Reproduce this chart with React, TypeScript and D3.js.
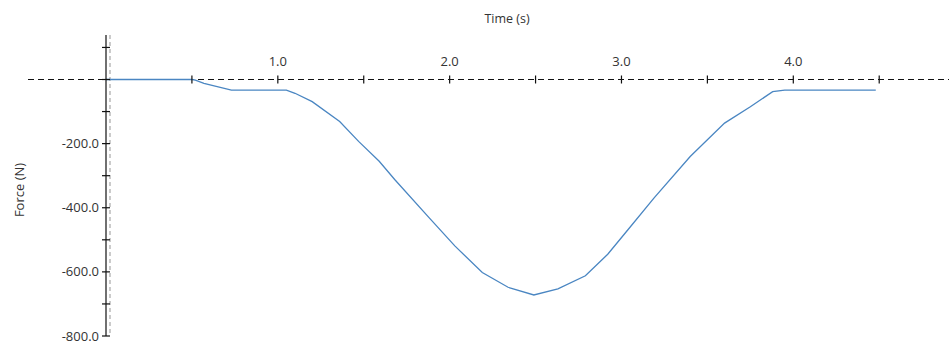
import React from "react";
import * as d3 from "d3";

const timeValues: number[] = [0, 0.5, 0.52, 0.57, 0.73, 1.05, 1.1, 1.2, 1.36, 1.47, 1.59, 1.68, 1.88, 2.03, 2.19, 2.34, 2.49, 2.63, 2.79, 2.92, 3.04, 3.19, 3.4, 3.6, 3.75, 3.88, 3.95, 4.48];
const forceValues: number[] = [0, 0, -2, -12, -33, -33, -43, -69, -131, -193, -255, -312, -431, -519, -602, -648, -672, -653, -612, -545, -467, -369, -240, -136, -85, -38, -33, -33];
const xTicks: number[] = [0.5, 1.0, 1.5, 2.0, 2.5, 3.0, 3.5, 4.0, 4.5];
const xLabelTicks: number[] = [1.0, 2.0, 3.0, 4.0];
const yTicks: number[] = [100, 0, -100, -200, -300, -400, -500, -600, -700, -800];
const yLabelTicks: number[] = [-200, -400, -600, -800];
const xTitle = "Time (s)";
const yTitle = "Force (N)";

const W = 949;
const H = 347;
const FONT = "'Open Sans', 'Noto Sans', sans-serif";
const TEXT = "#333";

export default function App() {
  const x = d3.scaleLinear().domain([0, 4]).range([106, 793.3]);
  const y = d3.scaleLinear().domain([0, -800]).range([79.5, 336]);
  const yTop = 35;
  const pts = timeValues.map((t, i) => [t, forceValues[i]] as [number, number]);
  const line = d3
    .line<[number, number]>()
    .x((d) => x(d[0]))
    .y((d) => y(d[1]));
  const f = d3.format(".1f");
  const fmt = (v: number) => f(v).replace("\u2212", "-");
  const x0 = x(0);
  const y0 = y(0);

  return (
    <svg
      width={W}
      height={H}
      style={{ position: "absolute", left: 0, top: 0, background: "#fff" }}
      fontFamily={FONT}
    >
      {/* grey dashed vertical line */}
      <line x1={x0 + 4} x2={x0 + 4} y1={yTop} y2={y(-800)} stroke="#a8a8a8" strokeWidth={1.2} strokeDasharray="4,3" />
      {/* zero dashed horizontal line */}
      <line x1={28} x2={W} y1={y0} y2={y0} stroke="#111" strokeWidth={1.1} strokeDasharray="6,4" />
      {/* data line */}
      <path d={line(pts) ?? ""} fill="none" stroke="#4a86c2" strokeWidth={1.3} />
      {/* y axis */}
      <line x1={x0} x2={x0} y1={yTop} y2={y(-800)} stroke="#111" strokeWidth={1.2} />
      {yTicks.map((v) => (
        <line key={v} x1={x0 - 4} x2={x0 + 4} y1={y(v)} y2={y(v)} stroke="#111" strokeWidth={1.2} />
      ))}
      {yLabelTicks.map((v) => (
        <text key={v} x={x0 - 7} y={y(v)} dy="0.35em" textAnchor="end" fontSize={13} fill={TEXT}>
          {fmt(v)}
        </text>
      ))}
      {/* x ticks */}
      {xTicks.map((v) => (
        <line key={v} x1={x(v)} x2={x(v)} y1={y0 - 4} y2={y0 + 4} stroke="#111" strokeWidth={1.2} />
      ))}
      {xLabelTicks.map((v) => (
        <text key={v} x={x(v)} y={y0 - 14} textAnchor="middle" fontSize={13} fill={TEXT}>
          {fmt(v)}
        </text>
      ))}
      <text x={507} y={23} textAnchor="middle" fontSize={12.5} fill={TEXT}>
        {xTitle}
      </text>
      <text
        transform={`translate(24, 190) rotate(-90)`}
        textAnchor="middle"
        fontSize={13}
        fill={TEXT}
      >
        {yTitle}
      </text>
    </svg>
  );
}
